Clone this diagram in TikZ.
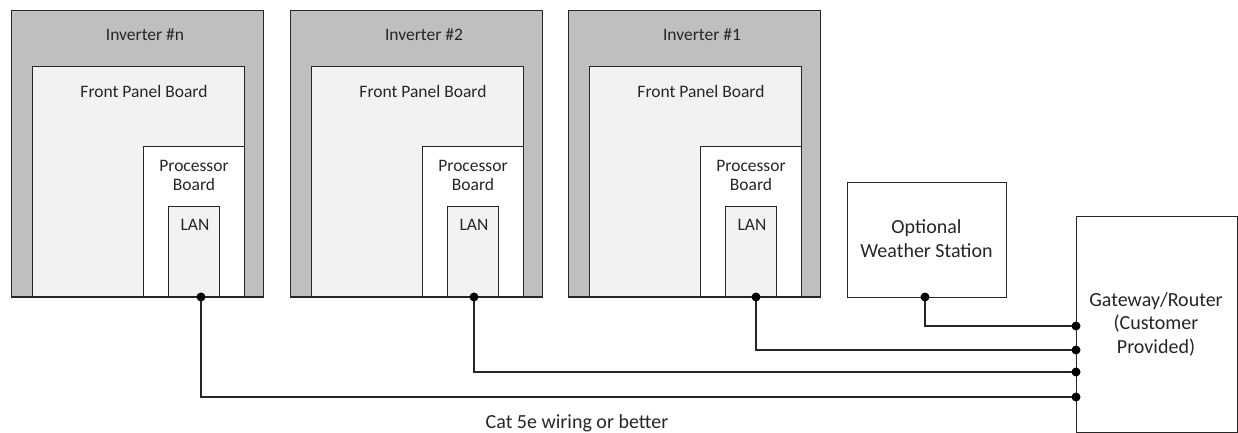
\documentclass[tikz,border=0pt]{standalone}
\usepackage{fontspec}
\setmainfont{Carlito}
\begin{document}
\begin{tikzpicture}[x=1pt,y=-1pt,
  lw/.style={line width=1.3pt, draw=black!85},
  outerbox/.style={lw, fill=black!25, anchor=north west, inner sep=0pt},
  fpbox/.style={lw, fill=black!5, anchor=north west, inner sep=0pt},
  procbox/.style={lw, fill=white, anchor=north west, inner sep=0pt},
  lanbox/.style={lw, fill=black!5, anchor=north west, inner sep=0pt},
  plainbox/.style={lw, fill=white, anchor=north west, inner sep=0pt},
  lbl/.style={font=\fontsize{17.5}{19.5}\selectfont, text=black!85, align=center, inner sep=0pt},
  biglbl/.style={font=\fontsize{20}{23.5}\selectfont, text=black!85, align=center, inner sep=0pt},
  dot/.style={circle, fill=black, inner sep=0pt, minimum size=9pt},
  wire/.style={line width=1.3pt, draw=black!85}]
\useasboundingbox (0,0) rectangle (1238,433);
\foreach \x/\n/\t/\d in {11/n/{\#n}/190, 290/2/{\#2}/184, 568/1/{\#1}/188} {
  \node[outerbox, minimum width=252pt, minimum height=287pt] (out\n) at (\x,10) {};
  \node[fpbox, minimum width=212pt, minimum height=231pt] (fp\n) at (\x+21,66) {};
  \node[procbox, minimum width=101pt, minimum height=151pt] (pr\n) at (\x+132,146) {};
  \node[lanbox, minimum width=51pt, minimum height=91pt] (lan\n) at (\x+157,206) {};
  \draw[lw] (\x,297) -- (\x+252,297);
  \node[lbl] (tout\n) at (\x+134,35) {Inverter \t};
  \node[lbl] (tfp\n) at (\x+133,91) {Front Panel Board};
  \node[lbl] (tpr\n) at (\x+183,175.5) {Processor\\Board};
  \node[lbl] (tlan\n) at (\x+184,225) {LAN};
  \coordinate (p\n) at (\x+\d,297);
}
\node[plainbox, minimum width=159pt, minimum height=115pt] (ws) at (847,182) {};
\node[biglbl] (tws) at (926.5,238.5) {Optional\\Weather Station};
\coordinate (pw) at (925,297);
\node[plainbox, minimum width=161pt, minimum height=216pt] (gw) at (1076,216) {};
\node[biglbl] (tgw) at (1156,324) {Gateway/Router\\(Customer\\Provided)};
\coordinate (g1) at (1076,326);
\coordinate (g2) at (1076,350);
\coordinate (g3) at (1076,372);
\coordinate (g4) at (1076,397);
\draw[wire] (pw) |- (g1);
\draw[wire] (p1) |- (g2);
\draw[wire] (p2) |- (g3);
\draw[wire] (pn) |- (g4);
\foreach \c in {pw,p1,p2,pn,g1,g2,g3,g4} \node[dot] at (\c) {};
\node[biglbl] (cat) at (577,423) {Cat 5e wiring or better};
\end{tikzpicture}
\end{document}
